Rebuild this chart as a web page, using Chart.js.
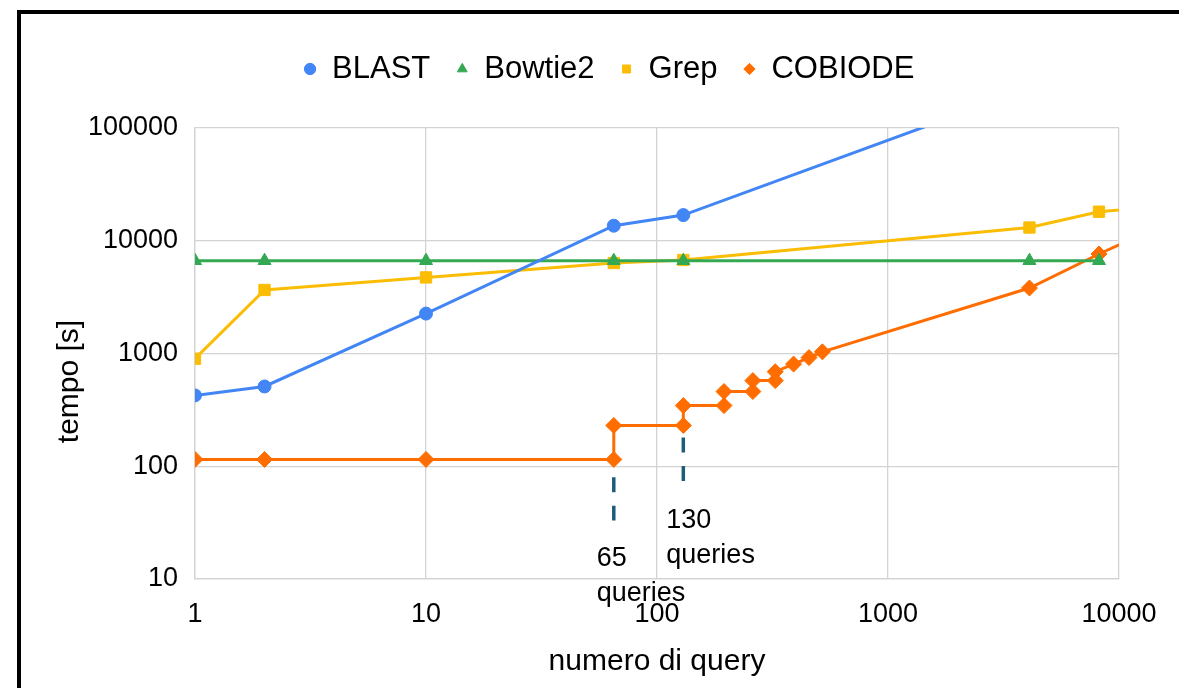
<!DOCTYPE html>
<html><head><meta charset="utf-8">
<script src="https://cdn.jsdelivr.net/npm/chart.js@4/dist/chart.umd.min.js"></script>
<style>
html,body{margin:0;padding:0;background:#fff;overflow:hidden}
#wrap{position:relative;width:1179px;height:688px;overflow:hidden}
#frame{position:absolute;left:17px;top:10px;right:-10px;bottom:-10px;border-left:4px solid #000;border-top:4px solid #000;pointer-events:none}
canvas{position:absolute;left:0;top:0}
</style></head><body>
<div id="wrap"><canvas id="c" width="1179" height="688"></canvas><div id="frame"></div></div>
<script>
const seriesNames = ['BLAST', 'Bowtie2', 'Grep', 'COBIODE'];
const blastX = [1, 2, 10, 65, 130, 4096];
const blastY = [425, 510, 2260, 13600, 16900, 224000];
const bowtieX = [1, 2, 10, 65, 130, 4096, 8192];
const bowtieY = [6650, 6650, 6650, 6650, 6650, 6650, 6650];
const grepX = [1, 2, 10, 65, 130, 4096, 8192, 16384];
const grepY = [900, 3660, 4730, 6350, 6750, 13100, 18100, 20300];
const cobiodeX = [1, 2, 10, 65, 65, 130, 130, 195, 195, 260, 260, 325, 325, 390, 455, 520, 4096, 8192, 16384];
const cobiodeY = [115, 115, 115, 115, 230, 230, 345, 345, 460, 460, 575, 575, 690, 805, 920, 1035, 3810, 7630, 14600];
const xTicks = [1, 10, 100, 1000, 10000];
const yTicks = [10, 100, 1000, 10000, 100000];
const xTitle = 'numero di query';
const yTitle = 'tempo [s]';
const markX = [65, 130];
const markTop = [80, 180];
const markBottom = [33, 72];
const markLabel = [['65', 'queries'], ['130', 'queries']];

const F = '"Liberation Sans", Arial, Helvetica, sans-serif';
const mk = (xs, ys) => xs.map((v, i) => ({x: v, y: ys[i]}));

const annot = {
  id: 'annot',
  afterDraw(chart) {
    const {ctx, chartArea} = chart;
    const x = chart.scales.x, y = chart.scales.y;
    ctx.save();
    markX.forEach((v, i) => {
      const px = x.getPixelForValue(v);
      const t = y.getPixelForValue(markTop[i]);
      const b = y.getPixelForValue(markBottom[i]);
      ctx.strokeStyle = '#1f5c7a';
      ctx.lineWidth = 3.5;
      ctx.setLineDash([15, 13.5]);
      ctx.beginPath(); ctx.moveTo(px, t); ctx.lineTo(px, b); ctx.stroke();
      ctx.setLineDash([]);
      ctx.fillStyle = '#000';
      ctx.font = '27px ' + F;
      ctx.textAlign = 'left';
      ctx.textBaseline = 'middle';
      markLabel[i].forEach((s, j) => ctx.fillText(s, px - 17, b + 38 + 35 * j));
    });
    // y-axis title
    ctx.translate(70, (chartArea.top + chartArea.bottom) / 2 + 28);
    ctx.rotate(-Math.PI / 2);
    ctx.fillStyle = '#000';
    ctx.font = '30px ' + F;
    ctx.textAlign = 'center';
    ctx.textBaseline = 'middle';
    ctx.fillText(yTitle, 0, 0);
    ctx.restore();
  }
};

const colors = ['#4285F4', '#34A853', '#FBBC04', '#FF6D01'];
const styles = ['circle', 'triangle', 'rect', 'rectRot'];
const radii = [6.5, 7.5, 8, 8];
const xs = [blastX, bowtieX, grepX, cobiodeX];
const ys = [blastY, bowtieY, grepY, cobiodeY];

new Chart(document.getElementById('c'), {
  type: 'line',
  data: {
    datasets: seriesNames.map((n, i) => ({
      label: n,
      data: mk(xs[i], ys[i]),
      borderColor: colors[i],
      backgroundColor: colors[i],
      pointBackgroundColor: colors[i],
      pointBorderColor: colors[i],
      pointStyle: styles[i],
      pointRadius: radii[i],
      pointBorderWidth: 1,
      borderWidth: 3,
      tension: 0
    }))
  },
  options: {
    responsive: false,
    animation: false,
    layout: {padding: {left: 80, right: 41, top: 28, bottom: 0}},
    plugins: {
      legend: {
        position: 'top',
        labels: {usePointStyle: true, boxWidth: 13, boxHeight: 8, padding: 25.5, color: '#000', font: {size: 31, family: F}}
      },
      subtitle: {display: true, text: '', weight: 500, font: {size: 1, lineHeight: 1}, padding: {top: 32.5, bottom: 0}},
      tooltip: {enabled: false}
    },
    scales: {
      x: {
        type: 'logarithmic', min: 1, max: 10000,
        afterBuildTicks: s => { s.ticks = xTicks.map(v => ({value: v})); },
        afterFit: s => { s.height = 109; },
        ticks: {callback: v => String(v), padding: 19, color: '#000', font: {size: 27, family: F}, maxRotation: 0, autoSkip: false},
        grid: {color: '#d3d3d3', lineWidth: 1.3, drawTicks: false},
        border: {color: '#d3d3d3', width: 1.3},
        title: {display: true, text: xTitle, color: '#000', font: {size: 30, family: F}, padding: {top: 0, bottom: 8}}
      },
      y: {
        type: 'logarithmic', min: 10, max: 100000,
        afterBuildTicks: s => { s.ticks = yTicks.map(v => ({value: v})); },
        afterFit: s => { s.width = 115; },
        ticks: {callback: v => String(v), padding: 17, color: '#000', font: {size: 27, family: F}, autoSkip: false},
        grid: {color: '#d3d3d3', lineWidth: 1.3, drawTicks: false},
        border: {color: '#d3d3d3', width: 1.3}
      },
      y2: {
        type: 'linear', position: 'right', display: true,
        afterFit: s => { s.width = 19; },
        ticks: {display: false},
        grid: {display: false, drawTicks: false},
        border: {display: false}
      }
    }
  },
  plugins: [annot]
});
</script>
</body></html>
